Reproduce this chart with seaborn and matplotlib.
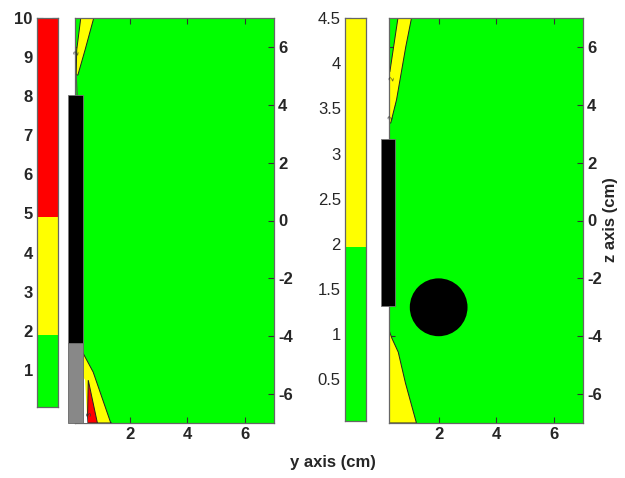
import numpy as np
import pandas as pd
import matplotlib
matplotlib.use("Agg")
import matplotlib.pyplot as plt
from matplotlib.patches import Rectangle, Circle
import seaborn as sns

sns.set_style("white")
plt.rcParams['font.family'] = ['Liberation Sans', 'DejaVu Sans']

# ---------------- data ----------------
GREEN, YELLOW, RED = '#00ff00', '#ffff00', '#ff0000'

# colour bars (level bounds and colours)
cb1_bounds = [0.05, 1.9, 4.9, 10.0]
cb1_colors = [GREEN, YELLOW, RED]
cb1_ticks = [1, 2, 3, 4, 5, 6, 7, 8, 9, 10]

cb2_bounds = [0.04, 1.97, 4.5]
cb2_colors = [GREEN, YELLOW]
cb2_ticks = [0.5, 1, 1.5, 2, 2.5, 3, 3.5, 4, 4.5]
cb2_labels = ['0.5', '1', '1.5', '2', '2.5', '3', '3.5', '4', '4.5']

# contour axes
y_ticks = [2, 4, 6]
z_ticks = [-6, -4, -2, 0, 2, 4, 6]
left_xlim = (0.1, 7.0)
right_xlim = (0.28, 7.0)
z_lim = (-7.0, 7.0)

# left panel regions (y, z)
L_top_yellow_y = [0.30, 0.75, 0.45, 0.20, 0.14, 0.16]
L_top_yellow_z = [7.0, 7.0, 5.9, 5.03, 5.03, 5.9]
L_stem_y = [0.14, 0.18]
L_stem_z = [5.03, 4.34]
L_bot_yellow_y = [0.36, 0.73, 1.33, 1.36, 0.36]
L_bot_yellow_z = [-4.55, -5.24, -6.97, -7.0, -7.0]
L_red_y = [0.56, 0.87, 0.88, 0.53]
L_red_z = [-5.52, -6.97, -7.0, -7.0]
L_white_y = [0.36, 0.45, 0.53, 0.36]
L_white_z = [-5.35, -5.52, -7.0, -7.0]

# right panel regions
R_top_yellow_y = [0.59, 1.06, 0.86, 0.54, 0.34, 0.28, 0.28, 0.31]
R_top_yellow_z = [7.0, 7.0, 6.0, 4.17, 3.37, 3.37, 5.14, 5.14]
R_bot_yellow_y = [0.28, 0.38, 0.60, 0.85, 1.23, 0.28]
R_bot_yellow_z = [-3.79, -4.07, -4.55, -5.62, -7.0, -7.0]

# obstacles: (y0, z0, width, height)
L_black_rect = (-0.13, -4.25, 0.50, 8.59)
L_gray_rect = (-0.13, -7.0, 0.50, 2.75)
R_black_rect = (0.0, -2.96, 0.48, 5.78)
R_circle = (2.0, -3.0, 1.0)

FS = 12

# ---------------- figure ----------------
W, H = 625, 478
fig = plt.figure(figsize=(W / 100, H / 100), dpi=100)


def px_axes(x0, y0, x1, y1):
    return fig.add_axes([x0 / W, 1 - y1 / H, (x1 - x0) / W, (y1 - y0) / H])


def style_spines(ax):
    for s in ax.spines.values():
        s.set_color('#666666')
        s.set_linewidth(0.9)


def colorbar(ax, bounds, colors, ticks, labels, weight):
    for lo, hi, c in zip(bounds[:-1], bounds[1:], colors):
        ax.bar(0, hi - lo, bottom=lo, width=1.0, color=c, linewidth=0)
    ax.set_xlim(-0.5, 0.5)
    ax.set_ylim(bounds[0], bounds[-1])
    ax.set_xticks([])
    ax.set_yticks(ticks)
    ax.set_yticklabels(labels, fontsize=FS, fontweight=weight)
    ax.tick_params(axis='y', direction='in', length=4, width=0.8, color='#333333',
                   left=True, right=True, labelleft=True, pad=3)
    style_spines(ax)


def contour_axes(ax, xlim):
    ax.set_facecolor(GREEN)
    ax.set_xlim(*xlim)
    ax.set_ylim(*z_lim)
    ax.set_xticks(y_ticks)
    ax.set_xticklabels([str(t) for t in y_ticks], fontsize=FS, fontweight='bold')
    ax.set_yticks(z_ticks)
    ax.set_yticklabels([str(t) for t in z_ticks], fontsize=FS, fontweight='bold')
    ax.tick_params(direction='in', length=4, width=0.8, color='#333333',
                   left=True, right=True, top=True, bottom=True,
                   labelleft=False, labelright=True, labelbottom=True, pad=3)
    style_spines(ax)


def region(ax, ys, zs, color):
    ax.fill(ys, zs, facecolor=color, edgecolor='#222222', linewidth=0.7, zorder=2)


# left colour bar
cax1 = px_axes(37, 18, 58, 407)
colorbar(cax1, cb1_bounds, cb1_colors, cb1_ticks, [str(t) for t in cb1_ticks], 'bold')

# left contour plot
ax1 = px_axes(75, 18, 274, 423)
contour_axes(ax1, left_xlim)
region(ax1, L_top_yellow_y, L_top_yellow_z, YELLOW)
region(ax1, L_bot_yellow_y, L_bot_yellow_z, YELLOW)
region(ax1, L_red_y, L_red_z, RED)
ax1.fill(L_white_y, L_white_z, facecolor='white', edgecolor='none', zorder=3)
sns.lineplot(x=L_stem_y, y=L_stem_z, sort=False, estimator=None, color='#555555',
             linewidth=0.8, ax=ax1)
ax1.add_patch(Rectangle(L_black_rect[:2], L_black_rect[2], L_black_rect[3],
                        facecolor='black', edgecolor='#777777', linewidth=0.6,
                        clip_on=False, zorder=5))
ax1.add_patch(Rectangle(L_gray_rect[:2], L_gray_rect[2], L_gray_rect[3],
                        facecolor='#888888', edgecolor='#666666', linewidth=0.6,
                        clip_on=False, zorder=5))
ax1.text(0.2, 5.8, '2', fontsize=5, rotation=80, color='#333333', zorder=4, ha='center', va='center')
ax1.text(0.62, -6.7, '3', fontsize=5, rotation=90, color='#333333', zorder=4, ha='center', va='center')

# right colour bar
cax2 = px_axes(345, 18, 366, 421)
colorbar(cax2, cb2_bounds, cb2_colors, cb2_ticks, cb2_labels, 'normal')

# right contour plot
ax2 = px_axes(389, 18, 583, 423)
contour_axes(ax2, right_xlim)
region(ax2, R_top_yellow_y, R_top_yellow_z, YELLOW)
region(ax2, R_bot_yellow_y, R_bot_yellow_z, YELLOW)
ax2.add_patch(Rectangle(R_black_rect[:2], R_black_rect[2], R_black_rect[3],
                        facecolor='black', edgecolor='#777777', linewidth=0.6,
                        clip_on=False, zorder=5))
ax2.add_patch(Circle(R_circle[:2], R_circle[2], facecolor='black', edgecolor='none', zorder=5))
ax2.text(0.4, 4.9, '2', fontsize=5, rotation=75, color='#333333', zorder=4, ha='center', va='center')
ax2.text(0.37, 3.55, '2', fontsize=5, rotation=75, color='#333333', zorder=4, ha='center', va='center')

# axis titles
fig.text(333 / W, 1 - 463 / H, 'y axis (cm)', fontsize=FS, fontweight='bold',
         ha='center', va='center')
fig.text(611 / W, 1 - 220 / H, 'z axis (cm)', fontsize=FS, fontweight='bold',
         ha='center', va='center', rotation=90)

fig.savefig('out.png', dpi=100)
